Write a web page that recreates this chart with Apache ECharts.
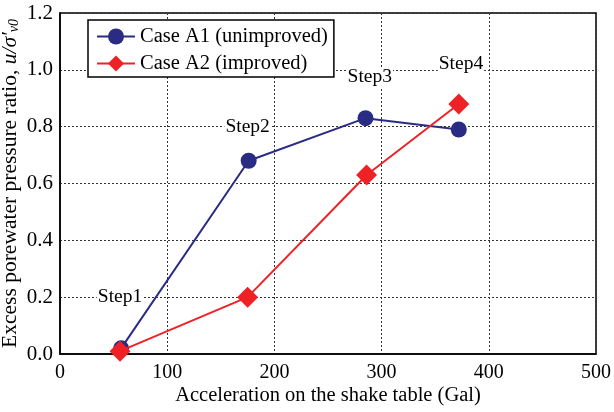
<!DOCTYPE html>
<html>
<head>
<meta charset="utf-8">
<script src="https://cdn.jsdelivr.net/npm/echarts@6/dist/echarts.min.js"></script>
<style>html,body{margin:0;padding:0;background:#fff}#c{width:614px;height:412px}</style>
</head>
<body>
<div id="c"></div>
<script>
var seriesNames = ['Case A1 (unimproved)', 'Case A2 (improved)'];
var a1X = [57, 176, 285, 372];
var a1Y = [0.02, 0.68, 0.83, 0.79];
var a2X = [56, 175, 286, 372];
var a2Y = [0.01, 0.20, 0.63, 0.88];
var stepNames = ['Step1', 'Step2', 'Step3', 'Step4'];
var stepX = [56, 175, 289, 374];
var stepY = [0.20, 0.80, 0.975, 1.02];
var xTicks = [0, 100, 200, 300, 400, 500];
var yTicks = [0, 0.2, 0.4, 0.6, 0.8, 1.0, 1.2];

function zip(xs, ys) { return xs.map(function (x, i) { return [x, ys[i]]; }); }

var FONT = 'Liberation Serif';
var chart = echarts.init(document.getElementById('c'));
chart.setOption({
  animation: false,
  backgroundColor: '#fff',
  textStyle: { fontFamily: FONT },
  grid: { left: 60, right: 18, top: 13, bottom: 58, containLabel: false, outerBoundsMode: 'none', show: true, borderColor: '#000', borderWidth: 1.5, backgroundColor: 'transparent' },
  legend: {
    orient: 'vertical', left: 88, top: 20,
    data: seriesNames,
    backgroundColor: '#fff', borderColor: '#000', borderWidth: 1.5,
    padding: [6, 6, 3, 8],
    itemWidth: 38, itemHeight: 20, itemGap: 6,
    textStyle: { fontFamily: FONT, fontSize: 20.5, color: '#000' }
  },
  xAxis: {
    type: 'value', min: xTicks[0], max: xTicks[xTicks.length - 1], interval: 100,
    name: 'Acceleration on the shake table (Gal)', nameLocation: 'middle', nameGap: 31, nameMoveOverlap: false,
    nameTextStyle: { fontFamily: FONT, fontSize: 20.5, color: '#000' },
    axisLine: { show: true, lineStyle: { color: '#000', width: 1.5 } },
    axisTick: { show: false },
    axisLabel: { fontFamily: FONT, fontSize: 20, color: '#000', margin: 9 },
    splitLine: { show: true, lineStyle: { color: '#333', type: [2, 2], width: 1 } }
  },
  yAxis: {
    type: 'value', min: yTicks[0], max: yTicks[yTicks.length - 1], interval: 0.2,
    name: 'Excess porewater pressure ratio, {i|u/σ′}{s|v0}', nameLocation: 'middle', nameGap: 39, nameMoveOverlap: false,
    nameTextStyle: {
      fontFamily: FONT, fontSize: 21.5, color: '#000',
      rich: {
        i: { fontFamily: FONT, fontSize: 21.5, fontStyle: 'italic', color: '#000' },
        s: { fontFamily: FONT, fontSize: 14, fontStyle: 'italic', color: '#000', padding: [8, 0, 0, 0] }
      }
    },
    axisLine: { show: true, lineStyle: { color: '#000', width: 1.5 } },
    axisTick: { show: false },
    axisLabel: { fontFamily: FONT, fontSize: 21, color: '#000', margin: 7, formatter: function (v) { return v.toFixed(1); } },
    splitLine: { show: true, lineStyle: { color: '#333', type: [2, 2], width: 1 } }
  },
  series: [
    {
      type: 'scatter', name: 'steps', silent: true, symbolSize: 1, z: 1,
      itemStyle: { opacity: 0 },
      data: zip(stepX, stepY).map(function (p, i) { return { value: p, name: stepNames[i] }; }),
      label: { show: true, position: 'inside', formatter: '{b}', fontFamily: FONT, fontSize: 19.5, color: '#000', opacity: 1, backgroundColor: '#fff', padding: [0, 1] }
    },
    {
      type: 'line', name: seriesNames[0], data: zip(a1X, a1Y), z: 3,
      symbol: 'circle', symbolSize: 16,
      lineStyle: { color: '#2A2C84', width: 2 },
      itemStyle: { color: '#2A2C84' }
    },
    {
      type: 'line', name: seriesNames[1], data: zip(a2X, a2Y), z: 4,
      symbol: 'diamond', symbolSize: 21,
      lineStyle: { color: '#EE2226', width: 2 },
      itemStyle: { color: '#EE2226' }
    }
  ]
});
</script>
</body>
</html>
